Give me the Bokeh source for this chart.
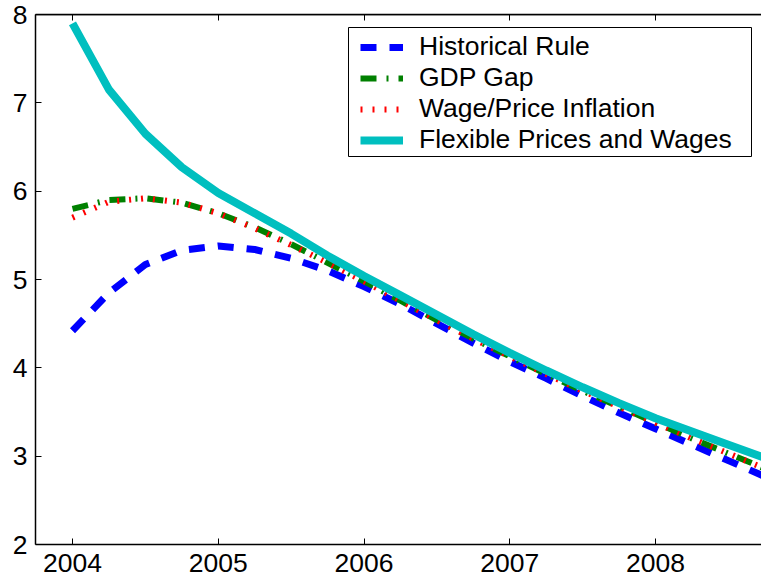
from bokeh.plotting import figure
from bokeh.models import (Range1d, LinearAxis, FixedTicker, Legend, LegendItem,
                          BoxAnnotation, ColumnDataSource, Span)
from bokeh.embed import file_html
from bokeh.resources import INLINE

# ---- data (quarterly, decimal years) ----
quarters = [2004.0, 2004.25, 2004.5, 2004.75, 2005.0, 2005.25, 2005.5, 2005.75,
            2006.0, 2006.25, 2006.5, 2006.75, 2007.0, 2007.25, 2007.5, 2007.75,
            2008.0, 2008.25, 2008.5, 2008.75]
historical_rule = [4.42, 4.85, 5.17, 5.33, 5.38, 5.34, 5.24, 5.10,
                   4.92, 4.72, 4.50, 4.28, 4.07, 3.88, 3.68, 3.49,
                   3.31, 3.13, 2.95, 2.77]
gdp_gap = [5.80, 5.90, 5.92, 5.87, 5.75, 5.59, 5.40, 5.19,
           4.98, 4.76, 4.54, 4.33, 4.13, 3.93, 3.74, 3.56,
           3.38, 3.20, 3.03, 2.86]
wage_price = [5.70, 5.88, 5.92, 5.87, 5.75, 5.58, 5.39, 5.19,
              4.98, 4.76, 4.54, 4.33, 4.13, 3.93, 3.74, 3.56,
              3.38, 3.20, 3.03, 2.86]
flexible = [7.90, 7.15, 6.65, 6.27, 5.98, 5.75, 5.52, 5.27,
            5.04, 4.82, 4.60, 4.38, 4.17, 3.97, 3.78, 3.60,
            3.43, 3.28, 3.13, 2.98]
x_ticks = [2004, 2005, 2006, 2007, 2008]
y_ticks = [2, 3, 4, 5, 6, 7, 8]

FONT = "Liberation Sans"
FS = "26.5px"

src = ColumnDataSource(dict(x=quarters, hist=historical_rule, gdp=gdp_gap,
                            wage=wage_price, flex=flexible))

px_per_year = 145.75
frame_w = 726
x0 = 2004 - 37 / px_per_year
p = figure(width=761, height=585, output_backend="svg", toolbar_location=None,
           x_range=Range1d(x0, x0 + frame_w / px_per_year), y_range=Range1d(2, 8),
           min_border_left=35, min_border_right=0, min_border_top=14,
           min_border_bottom=41)
p.outline_line_color = None
p.xgrid.visible = False
p.ygrid.visible = False
p.background_fill_color = "white"

for ax, ticks in ((p.xaxis[0], x_ticks), (p.yaxis[0], y_ticks)):
    ax.ticker = FixedTicker(ticks=ticks)
    ax.major_tick_in = 6
    ax.major_tick_out = 0
    ax.minor_tick_line_color = None
    ax.axis_line_width = 1.5
    ax.axis_line_color = "black"
    ax.major_tick_line_color = "black"
    ax.major_label_text_font = FONT
    ax.major_label_text_font_size = FS
    ax.major_label_text_color = "black"
p.xaxis.major_label_standoff = 9
p.yaxis.major_label_standoff = 8

top = LinearAxis(ticker=FixedTicker(ticks=x_ticks), major_tick_in=6, major_tick_out=0,
                 minor_tick_line_color=None, axis_line_width=1.5,
                 axis_line_color="black", major_tick_line_color="black",
                 major_label_text_font_size="1px", major_label_text_alpha=0.0,
                 major_label_standoff=0)
p.add_layout(top, "above")
p.add_layout(Span(location=p.y_range.end, dimension="width", line_color="black",
                  line_width=1.5))

r_hist = p.line("x", "hist", source=src, line_color="blue", line_width=7,
                line_dash="16 13")
r_gdp = p.line("x", "gdp", source=src, line_color="green", line_width=6,
               line_dash="16 10 2 10")
r_wage = p.line("x", "wage", source=src, line_color="red", line_width=6,
                line_dash="2 10")
r_flex = p.line("x", "flex", source=src, line_color="#00BFBF", line_width=8)

box = BoxAnnotation(left=313, right=716, top=517, bottom=388,
                    left_units="screen", right_units="screen",
                    top_units="screen", bottom_units="screen",
                    fill_color="white", fill_alpha=1.0,
                    line_color="black", line_width=1, line_alpha=1.0)
p.add_layout(box)

legend = Legend(items=[
    LegendItem(label="Historical Rule", renderers=[r_hist]),
    LegendItem(label="GDP Gap", renderers=[r_gdp]),
    LegendItem(label="Wage/Price Inflation", renderers=[r_wage]),
    LegendItem(label="Flexible Prices and Wages", renderers=[r_flex]),
], location=(325, 389), padding=5, margin=0, spacing=0, label_height=28,
    glyph_height=28, glyph_width=43, label_standoff=16,
    label_text_font=FONT, label_text_font_size=FS, label_text_color="black",
    border_line_color=None, background_fill_alpha=0.0)
p.add_layout(legend)

open("out.html", "w").write(file_html(p, INLINE))
